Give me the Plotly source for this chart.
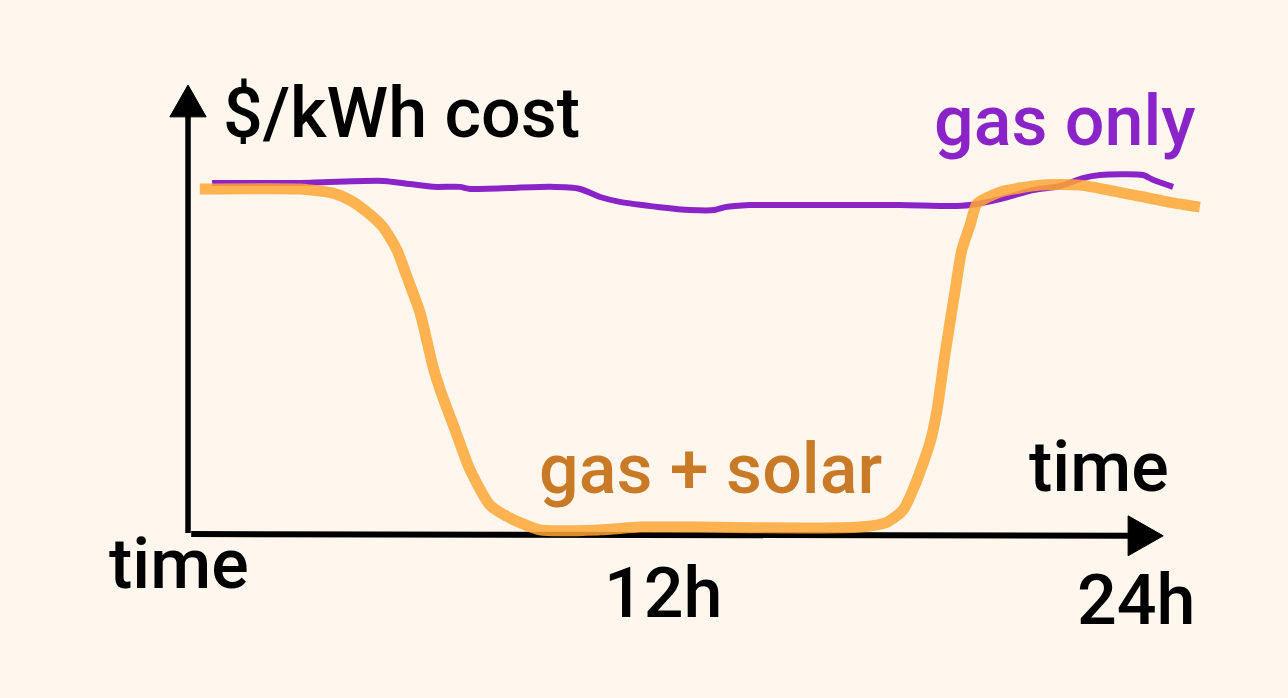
import plotly.graph_objects as go

# ---- data (hours, relative $/kWh cost) ----
gas_only_t = [0.56, 2.79, 4.90, 6.17, 6.85, 7.11, 9.14, 9.90, 10.41, 10.91, 11.93, 12.69,
              13.32, 13.58, 14.21, 15.48, 18.02, 19.29, 19.80, 20.56, 21.40, 22.08, 22.66,
              23.10, 24.19, 24.44, 24.95]
gas_only_c = [1.000, 1.000, 1.006, 0.989, 0.989, 0.983, 0.989, 0.983, 0.960, 0.946, 0.931, 0.923,
              0.923, 0.931, 0.937, 0.937, 0.937, 0.934, 0.937, 0.954, 0.980, 0.991, 1.014,
              1.023, 1.023, 1.009, 0.989]

solar_t = [0.25, 2.79, 3.05, 3.63, 4.06, 4.49, 4.90, 5.25, 5.51, 5.84, 6.17, 6.35, 6.73, 7.11,
           7.61, 8.12, 8.88, 10.41, 11.42, 12.94, 15.48, 17.01, 17.69, 18.10, 18.40, 18.78,
           18.96, 19.16, 19.42, 19.59, 19.80, 19.97, 20.56, 21.57, 22.59, 23.93, 24.95, 25.63]
solar_c = [0.983, 0.983, 0.980, 0.971, 0.951, 0.917, 0.874, 0.809, 0.731, 0.629, 0.474, 0.409,
           0.294, 0.180, 0.080, 0.043, 0.009, 0.009, 0.017, 0.017, 0.014, 0.017, 0.031, 0.066,
           0.137, 0.257, 0.351, 0.509, 0.694, 0.809, 0.880, 0.940, 0.974, 0.994, 0.994, 0.966,
           0.943, 0.931]

tick_vals = [12, 24]
tick_text = ["12h", "24h"]

BG = "rgb(255,246,237)"
PURPLE = "rgb(138,36,200)"
ORANGE = "rgba(255,166,52,0.85)"
ORANGE_TXT = "rgb(201,122,38)"
FONT = "Roboto"
WEIGHT = 500

fig = go.Figure()
fig.add_trace(go.Scatter(x=gas_only_t, y=gas_only_c, mode="lines",
                         line=dict(color=PURPLE, width=6, shape="spline", smoothing=0.6),
                         hoverinfo="skip", showlegend=False))
fig.add_trace(go.Scatter(x=solar_t, y=solar_c, mode="lines",
                         line=dict(color=ORANGE, width=11, shape="spline", smoothing=0.6),
                         hoverinfo="skip", showlegend=False))

# axes (drawn as arrows)
shapes = [
    dict(type="line", x0=-0.05, y0=0.0, x1=-0.05, y1=1.20, line=dict(color="black", width=5.5), layer="below"),
    dict(type="path", path="M -0.51 1.189 L 0.41 1.189 L -0.05 1.28 Z",
         fillcolor="black", line=dict(color="black", width=1), layer="below"),
    dict(type="line", x0=0.03, y0=-0.003, x1=23.9, y1=-0.008, line=dict(color="black", width=6), layer="below"),
    dict(type="path", path="M 23.81 0.049 L 23.81 -0.065 L 24.70 -0.008 Z",
         fillcolor="black", line=dict(color="black", width=1), layer="below"),
]

annotations = [
    dict(x=0.78, y=1.20, text="$/kWh cost", xanchor="left", yanchor="middle",
         font=dict(family=FONT, size=70, color="black", weight=WEIGHT)),
    dict(x=22.21, y=1.177, text="gas only", xanchor="center", yanchor="middle",
         font=dict(family=FONT, size=70, color=PURPLE, weight=WEIGHT)),
    dict(x=13.2, y=0.183, text="gas + solar", xanchor="center", yanchor="middle",
         font=dict(family=FONT, size=70, color=ORANGE_TXT, weight=WEIGHT)),
    dict(x=23.06, y=0.189, text="time", xanchor="center", yanchor="middle",
         font=dict(family=FONT, size=70, color="black", weight=WEIGHT)),
    dict(x=-0.29, y=-0.089, text="time", xanchor="center", yanchor="middle",
         font=dict(family=FONT, size=70, color="black", weight=WEIGHT)),
]
for v, t, yy in zip(tick_vals, tick_text, [-0.171, -0.191]):
    annotations.append(dict(x=v, y=yy, text=t, xanchor="center", yanchor="middle",
                            font=dict(family=FONT, size=70, color="black", weight=WEIGHT)))
for a in annotations:
    a.update(showarrow=False, xref="x", yref="y")

fig.update_layout(
    width=1288, height=698,
    margin=dict(l=0, r=0, t=0, b=0),
    paper_bgcolor=BG, plot_bgcolor=BG,
    xaxis=dict(range=[-4.822, 27.868], visible=False, fixedrange=True),
    yaxis=dict(range=[-0.4714, 1.5229], visible=False, fixedrange=True),
    shapes=shapes, annotations=annotations,
)
fig.write_html("out.html", config={"displayModeBar": False},
               post_script="document.body.style.margin='0';document.body.style.overflow='hidden';")
